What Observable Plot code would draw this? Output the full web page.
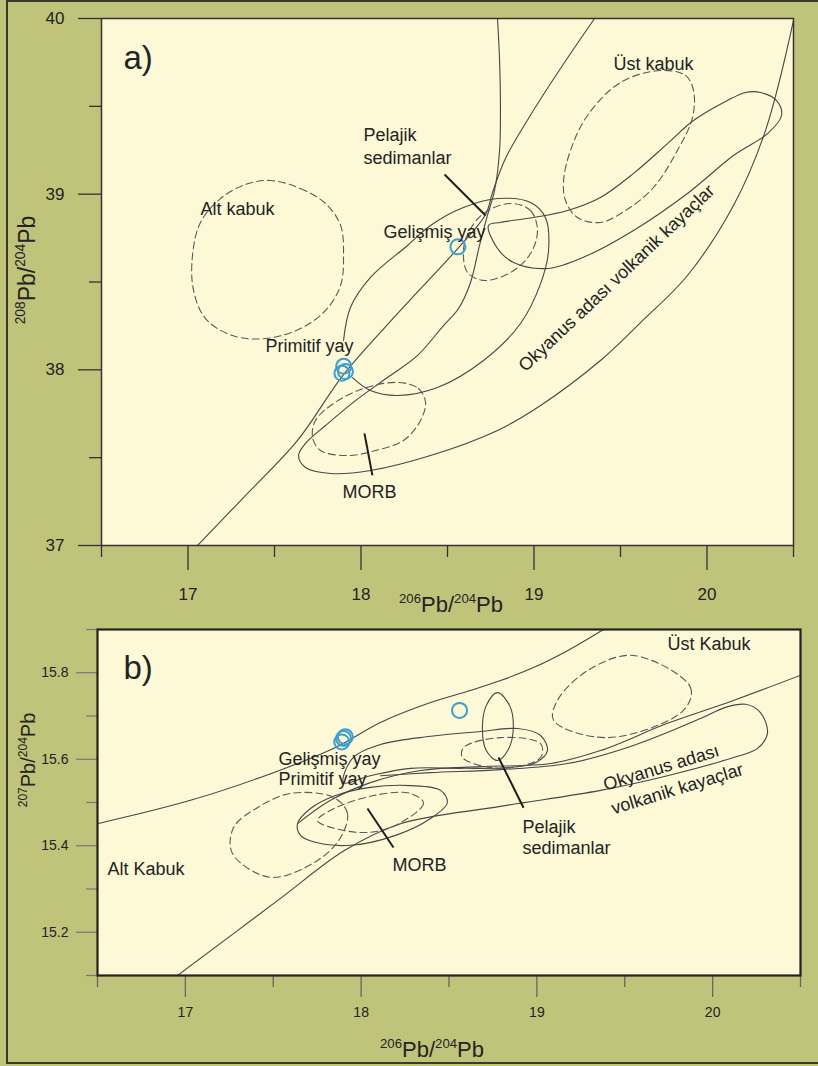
<!DOCTYPE html>
<html><head><meta charset="utf-8">
<script src="https://cdn.jsdelivr.net/npm/d3@7"></script>
<script src="https://cdn.jsdelivr.net/npm/@observablehq/plot@0.6"></script>
<style>
body{margin:0;background:#fff;}
#wrap{position:relative;width:818px;height:1066px;background:#bfc47a;overflow:hidden;}
#border{position:absolute;left:6px;top:0px;width:830px;height:1064px;border:2px solid #3a3a30;box-sizing:border-box;pointer-events:none;}
.panel{position:absolute;left:0;width:818px;}
</style></head><body>
<div id="wrap"><div id="pa" class="panel" style="top:0"></div><div id="pb" class="panel" style="top:600px"></div><div id="border"></div></div>
<script>
// ---------- ticks ----------
const xMajor = [17, 18, 19, 20];
const xMinor = [16.5, 17.5, 18.5, 19.5, 20.5];
const aYMajor = [37, 38, 39, 40];
const aYMinor = [37.5, 38.5, 39.5];
const bYMajor = [15.2, 15.4, 15.6, 15.8];
const bYMinor = [15.1, 15.3, 15.5, 15.7, 15.9];

// ---------- samples (blue circles) ----------
const pb206 = [17.90, 17.91, 17.89, 18.56];
const pb207 = [15.648, 15.652, 15.640, 15.713];
const pb208 = [38.02, 37.99, 37.98, 38.70];

// ---------- panel a fields (206Pb/204Pb, 208Pb/204Pb) ----------
const a_arcLine = [[17.055,37.0],[17.321,37.273],[17.633,37.598],[17.899,37.973],[18.228,38.338],[18.564,38.696],[18.72,38.884],[18.760,39.009],[18.835,39.203],[18.968,39.431],[19.153,39.715],[19.350,40.0]];
const a_oibOuter = [[18.789,40.0],[18.801,39.761],[18.806,39.476],[18.801,39.249],[18.772,39.021],[18.731,38.879],[18.685,38.708],[18.633,38.497],[18.564,38.349],[18.477,38.252],[18.327,38.082],[18.153,37.956],[17.968,37.825],[17.795,37.683],[17.679,37.581],[17.639,37.512],[17.679,37.444],[17.824,37.410],[18.055,37.427],[18.402,37.512],[18.789,37.655],[19.038,37.797],[19.384,38.053],[19.616,38.269],[19.887,38.537],[20.153,38.935],[20.338,39.362],[20.5,39.989]];
const a_arcField = [[17.951,37.956],[18.055,37.882],[18.211,37.854],[18.442,37.899],[18.708,38.053],[18.922,38.264],[19.038,38.491],[19.084,38.679],[19.066,38.867],[18.980,38.953],[18.789,38.975],[18.592,38.924],[18.402,38.822],[18.269,38.708],[18.055,38.526],[17.939,38.355],[17.899,38.167]];
const a_oibLoop = [[18.737,38.822],[18.789,38.691],[18.882,38.611],[19.078,38.577],[19.309,38.651],[19.575,38.793],[19.887,39.004],[20.153,39.220],[20.350,39.345],[20.431,39.448],[20.402,39.533],[20.309,39.579],[20.223,39.579],[20.118,39.533],[19.922,39.419],[19.772,39.288],[19.575,39.118],[19.384,38.981],[19.194,38.907],[18.997,38.867],[18.806,38.839]];
const a_lowerCrust = [[17.477,39.078],[17.650,39.032],[17.795,38.947],[17.882,38.822],[17.899,38.651],[17.882,38.480],[17.795,38.338],[17.650,38.235],[17.448,38.178],[17.257,38.195],[17.101,38.292],[17.032,38.452],[17.026,38.651],[17.072,38.839],[17.188,38.975],[17.332,39.055]];
const a_upperCrust = [[19.731,39.704],[19.876,39.676],[19.922,39.590],[19.916,39.436],[19.829,39.249],[19.691,39.038],[19.529,38.907],[19.384,38.839],[19.251,38.867],[19.182,38.964],[19.171,39.078],[19.211,39.249],[19.309,39.448],[19.500,39.636]];
const a_pelagic = [[18.864,38.947],[18.980,38.907],[19.020,38.793],[18.980,38.662],[18.864,38.554],[18.708,38.509],[18.616,38.554],[18.592,38.651],[18.610,38.759],[18.708,38.890]];
const a_morb = [[18.211,37.928],[18.332,37.894],[18.373,37.814],[18.344,37.712],[18.246,37.598],[18.084,37.541],[17.922,37.512],[17.766,37.541],[17.720,37.615],[17.737,37.712],[17.841,37.808],[18.014,37.894]];
// leader lines [x1, y1, x2, y2]
const a_leaders = [[18.483,39.112,18.720,38.879],[18.020,37.638,18.066,37.399]];
// labels
const aLabelText = ["Alt kabuk","Pelajik","sedimanlar","Gelişmiş yay","Primitif yay","MORB","Üst kabuk"];
const aLabelX = [17.072,18.014,18.014,18.130,17.448,17.893,19.460];
const aLabelY = [38.917,39.333,39.202,38.786,38.132,37.301,39.737];
const aPanelTag = {text:["a)"], x:[16.627], y:[39.773]};
const aOibLabel = {text:["Okyanus adası volkanik kayaçlar"], x:[18.928], y:[38.008], angle:[-43.5]};

// ---------- panel b fields (206Pb/204Pb, 207Pb/204Pb) ----------
const b_arcLine = [[16.5,15.451],[17.029,15.505],[17.501,15.569],[17.854,15.627],[18.110,15.685],[18.395,15.731],[18.622,15.759],[18.793,15.782],[18.981,15.812],[19.174,15.851],[19.379,15.9]];
const b_primLoop = [[17.900,15.546],[17.951,15.602],[18.110,15.634],[18.395,15.653],[18.679,15.664],[18.890,15.671],[19.021,15.655],[19.060,15.620],[18.992,15.592],[18.850,15.581],[18.565,15.579],[18.281,15.579],[18.053,15.562]];
const b_pelSolid = [[18.776,15.754],[18.845,15.724],[18.866,15.673],[18.838,15.623],[18.776,15.597],[18.712,15.620],[18.690,15.671],[18.712,15.724]];
const b_morbSolid = [[17.638,15.451],[17.712,15.486],[17.854,15.516],[18.053,15.535],[18.281,15.539],[18.452,15.528],[18.491,15.500],[18.395,15.463],[18.196,15.424],[17.940,15.401],[17.740,15.408],[17.655,15.424]];
const b_oibUpper = [[17.638,15.451],[17.826,15.505],[18.053,15.546],[18.338,15.574],[18.679,15.583],[19.078,15.590],[19.362,15.620],[19.743,15.683],[20.119,15.736],[20.5,15.794]];
const b_oibLower = [[16.955,15.1],[17.524,15.273],[17.905,15.389],[18.224,15.451],[18.793,15.491],[19.362,15.528],[19.743,15.562],[20.119,15.604],[20.255,15.625],[20.312,15.660],[20.272,15.708],[20.187,15.727],[20.073,15.720],[19.931,15.694],[19.550,15.632],[19.174,15.590],[18.793,15.576],[18.395,15.569],[18.110,15.562]];
const b_lowerCrust = [[17.843,15.512],[17.922,15.475],[17.883,15.419],[17.752,15.366],[17.484,15.327],[17.268,15.382],[17.274,15.442],[17.410,15.488],[17.598,15.521]];
const b_morb = [[18.281,15.521],[18.355,15.498],[18.167,15.442],[17.979,15.431],[17.752,15.458],[17.826,15.482],[18.070,15.516]];
const b_pelagic = [[18.793,15.650],[19.021,15.636],[19.021,15.604],[18.793,15.579],[18.577,15.604],[18.583,15.627]];
const b_upperCrust = [[19.550,15.840],[19.874,15.766],[19.834,15.713],[19.402,15.650],[19.095,15.690],[19.117,15.736],[19.288,15.805]];
const b_leaders = [[18.036,15.486,18.184,15.396],[18.782,15.604,18.924,15.488]];
const bLabelText = ["Üst Kabuk","Gelişmiş yay","Primitif yay","MORB","Alt Kabuk","Pelajik","sedimanlar"];
const bLabelX = [19.743,17.530,17.530,18.179,16.557,18.918,18.918];
const bLabelY = [15.865,15.599,15.553,15.356,15.345,15.442,15.395];
const bPanelTag = {text:["b)"], x:[16.648], y:[15.810]};
const bOibLabel = {text:["Okyanus adası","volkanik kayaçlar"], x:[19.381,19.426], y:[15.540,15.485], angle:[-17,-17]};

// axis titles (isotope pairs)
const aAxisX = ["206","204"], aAxisY = ["208","204"];
const bAxisX = ["206","204"], bAxisY = ["207","204"];

// ---------- drawing ----------
const FONT = '"Liberation Sans", Arial, Helvetica, sans-serif';
const CREAM = "#fdf8d6", INK = "#474747", TXT = "#232323", BLUE = "#3d9fd0";
const rows = (list) => list.flatMap((pts, id) => pts.map(([x, y]) => ({x, y, id})));
const linkRows = (list) => list.map(([x1, y1, x2, y2]) => ({x1, y1, x2, y2}));
const intFmt = d => String(d);

function fieldMarks(openSolid, closedSolid, closedDashed, leaders) {
  return [
    Plot.line(rows(openSolid), {x:"x", y:"y", z:"id", curve:"catmull-rom", stroke:INK, strokeWidth:1.1, clip:true}),
    Plot.line(rows(closedSolid), {x:"x", y:"y", z:"id", curve:"catmull-rom-closed", stroke:INK, strokeWidth:1.1, clip:true}),
    Plot.line(rows(closedDashed), {x:"x", y:"y", z:"id", curve:"catmull-rom-closed", stroke:"#5a5a5a", strokeWidth:1.1, strokeDasharray:"7,4", clip:true}),
    Plot.link(linkRows(leaders), {x1:"x1", y1:"y1", x2:"x2", y2:"y2", stroke:"#1e1e1e", strokeWidth:2})
  ];
}

function isoTitle(svg, x, y, rot, size, pair) {
  const t = d3.select(svg).append("text")
    .attr("transform", `translate(${x},${y}) rotate(${rot})`)
    .attr("text-anchor", "middle").attr("font-family", FONT).attr("fill", TXT).attr("font-size", size);
  const s = size * 0.6, sh = size * 0.42;
  t.append("tspan").attr("font-size", s).attr("dy", -sh).text(pair[0]);
  t.append("tspan").attr("dy", sh).text("Pb/");
  t.append("tspan").attr("font-size", s).attr("dy", -sh).text(pair[1]);
  t.append("tspan").attr("dy", sh).text("Pb");
}

// Panel a
const svgA = Plot.plot({
  width: 818, height: 625, marginLeft: 101, marginRight: 25, marginTop: 18, marginBottom: 80,
  x: {domain: [16.5, 20.5], label: null},
  y: {domain: [37, 40], label: null},
  style: {background: "transparent", fontFamily: FONT, fontSize: "17px", color: TXT, overflow: "visible"},
  marks: [
    Plot.frame({fill: CREAM}),
    ...fieldMarks([a_arcLine, a_oibOuter, a_arcField], [a_oibLoop], [a_lowerCrust, a_upperCrust, a_pelagic, a_morb], a_leaders),
    Plot.dot(pb206.map((d, i) => i), {x: i => pb206[i], y: i => pb208[i], r: 7.5, stroke: BLUE, strokeWidth: 2, fill: "none"}),
    Plot.text(aLabelText.map((d, i) => i), {x: i => aLabelX[i], y: i => aLabelY[i], text: i => aLabelText[i], textAnchor: "start", lineAnchor: "middle", fontSize: 18, fill: TXT}),
    Plot.text(aPanelTag.text.map((d, i) => i), {x: i => aPanelTag.x[i], y: i => aPanelTag.y[i], text: i => aPanelTag.text[i], textAnchor: "start", lineAnchor: "middle", fontSize: 33, fill: TXT}),
    Plot.text(aOibLabel.text.map((d, i) => i), {x: i => aOibLabel.x[i], y: i => aOibLabel.y[i], text: i => aOibLabel.text[i], rotate: aOibLabel.angle[0], textAnchor: "start", lineAnchor: "middle", fontSize: 18, fill: TXT}),
    Plot.axisX(xMajor, {tickSize: 25, tickPadding: 17, stroke: "#333", strokeWidth: 1.3, fontSize: 17, tickFormat: intFmt, label: null}),
    Plot.axisX(xMinor, {tickSize: 12, stroke: "#333", strokeWidth: 1.3, tickFormat: () => "", label: null}),
    Plot.axisY(aYMajor, {tickSize: 23, tickPadding: 14, stroke: "#333", strokeWidth: 1.3, fontSize: 17, tickFormat: intFmt, label: null}),
    Plot.axisY(aYMinor, {tickSize: 12, stroke: "#333", strokeWidth: 1.3, tickFormat: () => "", label: null}),
    Plot.frame({stroke: "#333", strokeWidth: 1.5})
  ]
});
document.getElementById("pa").append(svgA);
isoTitle(svgA, 451, 612, 0, 22, aAxisX);
isoTitle(svgA, 35, 270, -90, 23, aAxisY);

// Panel b
const svgB = Plot.plot({
  width: 818, height: 466, marginLeft: 97, marginRight: 18, marginTop: 29, marginBottom: 91,
  x: {domain: [16.5, 20.5], label: null},
  y: {domain: [15.1, 15.9], label: null},
  style: {background: "transparent", fontFamily: FONT, fontSize: "14px", color: TXT, overflow: "visible"},
  marks: [
    Plot.frame({fill: CREAM}),
    ...fieldMarks([b_arcLine, b_oibUpper, b_oibLower], [b_primLoop, b_pelSolid, b_morbSolid], [b_lowerCrust, b_morb, b_pelagic, b_upperCrust], b_leaders),
    Plot.dot(pb206.map((d, i) => i), {x: i => pb206[i], y: i => pb207[i], r: 7.5, stroke: BLUE, strokeWidth: 2, fill: "none"}),
    Plot.text(bLabelText.map((d, i) => i), {x: i => bLabelX[i], y: i => bLabelY[i], text: i => bLabelText[i], textAnchor: "start", lineAnchor: "middle", fontSize: 18, fill: TXT}),
    Plot.text(bPanelTag.text.map((d, i) => i), {x: i => bPanelTag.x[i], y: i => bPanelTag.y[i], text: i => bPanelTag.text[i], textAnchor: "start", lineAnchor: "middle", fontSize: 33, fill: TXT}),
    Plot.text(bOibLabel.text.map((d, i) => i), {x: i => bOibLabel.x[i], y: i => bOibLabel.y[i], text: i => bOibLabel.text[i], rotate: bOibLabel.angle[0], textAnchor: "start", lineAnchor: "middle", fontSize: 18, fill: TXT}),
    Plot.axisX(xMajor, {tickSize: 22, tickPadding: 10, stroke: "#666", strokeWidth: 1.3, fontSize: 14, tickFormat: intFmt, label: null}),
    Plot.axisX(xMinor, {tickSize: 12, stroke: "#666", strokeWidth: 1.3, tickFormat: () => "", label: null}),
    Plot.axisY(bYMajor, {tickSize: 21, tickPadding: 8, stroke: "#777", strokeWidth: 1.2, fontSize: 14, tickFormat: d3.format(".1f"), label: null}),
    Plot.axisY(bYMinor, {tickSize: 11, stroke: "#777", strokeWidth: 1.2, tickFormat: () => "", label: null}),
    Plot.frame({stroke: "#222", strokeWidth: 2.2})
  ]
});
document.getElementById("pb").append(svgB);
isoTitle(svgB, 432, 457, 0, 22, bAxisX);
isoTitle(svgB, 35, 160, -90, 20, bAxisY);
</script>
</body></html>
